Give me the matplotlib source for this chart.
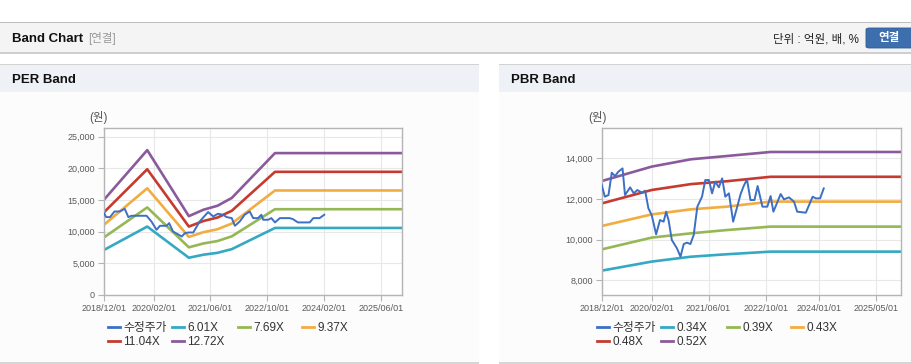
import pandas as pd
import matplotlib.pyplot as plt
from matplotlib.patches import Rectangle, FancyBboxPatch
from matplotlib.lines import Line2D
from matplotlib.ticker import FuncFormatter

plt.rcParams['font.family'] = ['Liberation Sans', 'Noto Sans CJK KR']

W, H = 912, 364

# ---- PER band data ----
per_band_dates = ['2018-12-01', '2019-12-07', '2020-11-28', '2021-04-01', '2021-08-01',
                  '2021-11-01', '2021-12-01', '2022-12-07', '2025-12-01']
per_601 = [7104, 10800, 5878, 6353, 6653, 7092, 7230, 10578, 10578]
per_769 = [9090, 13819, 7521, 8128, 8513, 9074, 9251, 13534, 13534]
per_937 = [11075, 16838, 9164, 9904, 10373, 11057, 11272, 16491, 16491]
per_1104 = [13049, 19839, 10797, 11669, 12221, 13027, 13281, 19430, 19430]
per_1272 = [15035, 22858, 12440, 13445, 14081, 15010, 15302, 22387, 22387]

per_price_dates = ['2018-12-01', '2018-12-20', '2019-01-22', '2019-03-01', '2019-04-15',
                   '2019-05-28', '2019-06-28', '2019-07-25', '2019-12-01', '2020-01-12',
                   '2020-02-25', '2020-03-25', '2020-05-22', '2020-06-12', '2020-07-15',
                   '2020-09-28', '2020-10-25', '2020-11-25', '2021-01-05', '2021-03-01',
                   '2021-05-12', '2021-06-25', '2021-08-05', '2021-09-18', '2021-10-18',
                   '2021-12-01', '2021-12-28', '2022-02-08', '2022-03-22', '2022-05-04',
                   '2022-06-03', '2022-07-15', '2022-08-12', '2022-08-28', '2022-10-10',
                   '2022-11-06', '2022-12-07', '2023-01-18', '2023-04-12', '2023-05-10',
                   '2023-06-22', '2023-10-01', '2023-11-01', '2023-12-25', '2024-02-03']
per_price = [12920, 12290, 12290, 13180, 13180, 13600, 12290, 12500, 12500, 11600,
             10290, 10920, 10920, 11340, 10020, 9230, 9760, 9860, 9860, 11600,
             13080, 12400, 12820, 12660, 12290, 12130, 10920, 11600, 12660, 13180,
             12130, 12130, 12660, 11870, 11870, 12130, 11450, 12130, 12130, 11970,
             11450, 11450, 12130, 12130, 12660]

# ---- PBR band data ----
pbr_band_dates = ['2018-12-01', '2020-02-01', '2021-01-01', '2021-11-01', '2022-11-13', '2025-12-01']
pbr_034 = [8475, 8920, 9160, 9280, 9410, 9410]
pbr_039 = [9520, 10100, 10310, 10470, 10640, 10640]
pbr_043 = [10670, 11240, 11490, 11620, 11870, 11870]
pbr_048 = [11780, 12440, 12730, 12870, 13090, 13090]
pbr_052 = [12880, 13590, 13950, 14110, 14310, 14310]

pbr_price_dates = ['2018-12-01', '2018-12-28', '2019-01-28', '2019-02-25', '2019-03-25',
                   '2019-04-22', '2019-05-28', '2019-06-18', '2019-08-01', '2019-09-01',
                   '2019-10-01', '2019-11-10', '2019-12-07', '2020-01-04', '2020-02-01',
                   '2020-03-10', '2020-04-12', '2020-05-13', '2020-06-04', '2020-06-25',
                   '2020-07-22', '2020-09-04', '2020-10-04', '2020-11-01', '2020-11-28',
                   '2020-12-28', '2021-01-25', '2021-02-25', '2021-04-06', '2021-05-04',
                   '2021-06-04', '2021-07-01', '2021-07-28', '2021-08-28', '2021-09-25',
                   '2021-10-22', '2021-11-22', '2021-12-28', '2022-02-01', '2022-03-01',
                   '2022-03-28', '2022-04-25', '2022-05-25', '2022-06-28', '2022-07-25',
                   '2022-09-04', '2022-10-16', '2022-11-13', '2022-12-07', '2023-02-07',
                   '2023-03-07', '2023-04-19', '2023-06-01', '2023-06-28', '2023-09-10',
                   '2023-11-07', '2023-12-04', '2024-01-10', '2024-02-10']
pbr_price = [12684, 12111, 12193, 13290, 13126, 13339, 13503, 12193, 12570, 12275,
             12439, 12308, 12406, 11538, 11210, 10260, 10964, 10883, 11374, 10932,
             9982, 9572, 9163, 9785, 9851, 9785, 10228, 11620, 12111, 12930,
             12930, 12275, 12848, 12570, 13012, 12111, 12275, 10883, 11620, 12226,
             12636, 12963, 11947, 11947, 12636, 11620, 11620, 12144, 11374, 12242,
             11980, 12078, 11866, 11374, 11325, 12111, 12029, 12029, 12520]

per_labels = ['수정주가', '6.01X', '7.69X', '9.37X', '11.04X', '12.72X']
pbr_labels = ['수정주가', '0.34X', '0.39X', '0.43X', '0.48X', '0.52X']
per_xticks = ['2018/12/01', '2020/02/01', '2021/06/01', '2022/10/01', '2024/02/01', '2025/06/01']
pbr_xticks = ['2018/12/01', '2020/02/01', '2021/06/01', '2022/10/01', '2024/01/01', '2025/05/01']

colors = ['#3d6fc4', '#35a9c2', '#95b854', '#f2ac40', '#c63a2f', '#8b5a9c']


def fx(px):
    return px / W


def fy(py):
    return 1 - py / H


fig = plt.figure(figsize=(W / 100, H / 100), dpi=100)
fig.patch.set_facecolor('white')


def rect(x0, y0, x1, y1, color):
    fig.patches.append(Rectangle((fx(x0), fy(y1)), fx(x1 - x0), (y1 - y0) / H,
                                 transform=fig.transFigure, facecolor=color,
                                 edgecolor='none', zorder=-5))


# header bar
rect(0, 21.5, W, 23, '#bdbdbd')
rect(0, 23, W, 52, '#f4f4f4')
rect(0, 52, W, 54, '#cfcfcf')
fig.patches.append(FancyBboxPatch((fx(866), fy(48)), fx(50), 20 / H,
                                  boxstyle='round,pad=0,rounding_size=0.004',
                                  transform=fig.transFigure, facecolor='#3d6faf',
                                  edgecolor='#2f5b93', lw=0.6, zorder=1))
fig.text(fx(12), fy(38.5), 'Band Chart', fontsize=9.5, fontweight='bold', color='#111111', va='center')
fig.text(fx(88), fy(38.5), '[연결]', fontsize=8.3, color='#999999', va='center')
fig.text(fx(859), fy(39), '단위 : 억원, 배, %', fontsize=8.3, color='#222222', va='center', ha='right')
fig.text(fx(889), fy(38), '연결', fontsize=8.3, fontweight='bold', color='white', va='center', ha='center')

# panels
for x0, x1, title in [(0, 479, 'PER Band'), (499, W, 'PBR Band')]:
    rect(x0, 63.5, x1, 65, '#d2d2d2')
    rect(x0, 65, x1, 92, '#eef2f7')
    rect(x0, 92, x1, 362, '#fcfcfc')
    rect(x0, 362, x1, 364, '#d6d6d6')
    fig.text(fx(x0 + 12), fy(80), title, fontsize=9.5, fontweight='bold', color='#111111', va='center')

ax1 = fig.add_axes([fx(104), fy(295), fx(402 - 104), (295 - 128.3) / H])
ax2 = fig.add_axes([fx(601.7), fy(295.3), fx(901 - 601.7), (295.3 - 128.3) / H])


def style(ax, xt):
    ax.set_facecolor('white')
    for s in ax.spines.values():
        s.set_color('#b4b4b4')
        s.set_linewidth(1.0)
    ax.set_xlim(pd.Timestamp('2018-12-01'), pd.Timestamp('2025-12-01'))
    ax.set_xticks(pd.to_datetime([t.replace('/', '-') for t in xt]))
    ax.set_xticklabels(xt)
    ax.grid(True, color='#e8e8e8', lw=0.8)
    ax.set_axisbelow(True)
    ax.tick_params(labelsize=6.5, colors='#5a5a5a', length=4, width=0.8, pad=2.5)
    ax.tick_params(color='#b4b4b4')
    ax.yaxis.set_major_formatter(FuncFormatter(lambda v, p: f'{v:,.0f}'))


def legend(ax, handles, labels, x0):
    cols = [107.7, 171.7, 237.7, 301.7]
    groups = [[0, 4], [1, 5], [2], [3]]
    for cx, g in zip(cols, groups):
        lg = ax.legend([handles[i] for i in g], [labels[i] for i in g],
                       loc='upper left', bbox_to_anchor=(fx(cx + x0), fy(322)),
                       bbox_transform=fig.transFigure, frameon=False, fontsize=8.5,
                       handlelength=1.0, handletextpad=0.3, labelspacing=0.15,
                       borderpad=0, borderaxespad=0, labelcolor='#333333')
        ax.add_artist(lg)
    ax.legend_ = None


# PER
d = pd.to_datetime(per_band_dates)
per_bands = [per_601, per_769, per_937, per_1104, per_1272]
for vals, c in zip(per_bands, colors[1:]):
    ax1.plot(d, vals, color=c, lw=1.9, solid_joinstyle='round')
ax1.plot(pd.to_datetime(per_price_dates), per_price, color=colors[0], lw=1.4, zorder=5)
ax1.set_ylim(0, 26300)
ax1.set_yticks([0, 5000, 10000, 15000, 20000, 25000])
style(ax1, per_xticks)
fig.text(fx(98.5), fy(118), '(원)', fontsize=8.3, color='#555555', ha='center', va='center')

# PBR
d = pd.to_datetime(pbr_band_dates)
pbr_bands = [pbr_034, pbr_039, pbr_043, pbr_048, pbr_052]
for vals, c in zip(pbr_bands, colors[1:]):
    ax2.plot(d, vals, color=c, lw=1.9, solid_joinstyle='round')
ax2.plot(pd.to_datetime(pbr_price_dates), pbr_price, color=colors[0], lw=1.4, zorder=5)
ax2.set_ylim(7263, 15474)
ax2.set_yticks([8000, 10000, 12000, 14000])
style(ax2, pbr_xticks)
fig.text(fx(597.5), fy(118), '(원)', fontsize=8.3, color='#555555', ha='center', va='center')

handles = [Line2D([], [], color=c, lw=2) for c in colors]
legend(ax1, handles, per_labels, 0)
legend(ax2, handles, pbr_labels, 601.7 - 104 - 8)

fig.savefig('out.png', dpi=100, facecolor=fig.get_facecolor())
